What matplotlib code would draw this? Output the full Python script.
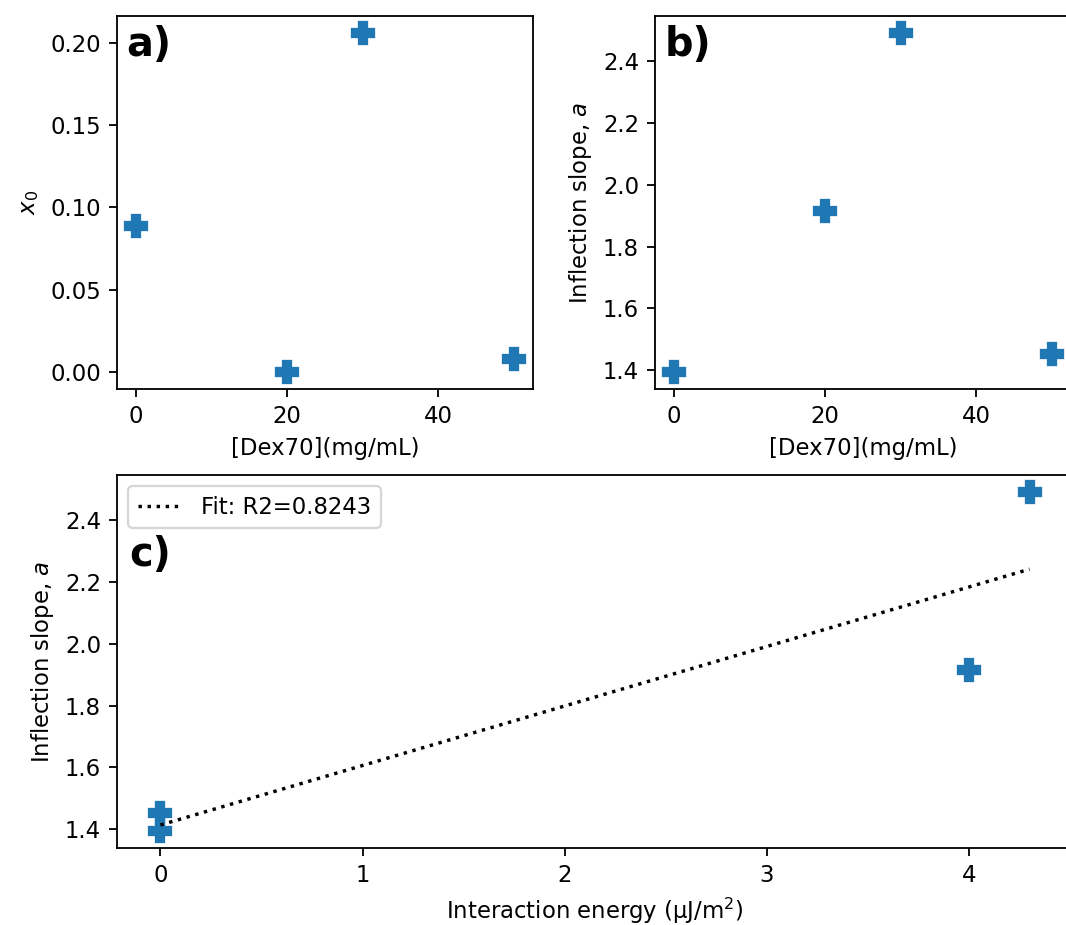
import numpy as np
import matplotlib
matplotlib.use("Agg")
import matplotlib.pyplot as plt
from matplotlib.ticker import MultipleLocator

# Data
dex70 = np.array([0, 20, 30, 50])                      # mg/mL
x0_vals = np.array([0.0888, 0.0, 0.206, 0.0079])        # x_0
slope_a = np.array([1.394, 1.915, 2.491, 1.452])        # inflection slope a
energy = np.array([0.0, 4.0, 4.3, 0.0])                 # interaction energy (uJ/m^2)
fit_label = "Fit: R2=0.8243"

DPI = 164
fig = plt.figure(figsize=(1066 / DPI, 925 / DPI), dpi=DPI)

W, H = 1066, 925
def pos(l, t, r, b):
    return [l / W, 1 - b / H, (r - l) / W, (b - t) / H]

ax_a = fig.add_axes(pos(117, 16, 533, 389))
ax_b = fig.add_axes(pos(655, 16, 1071, 389))
ax_c = fig.add_axes(pos(117, 475, 1073, 848))

mk = dict(marker='P', linestyle='none', markersize=10, color='#1f77b4')

ax_a.plot(dex70, x0_vals, **mk)
ax_a.set_xlabel('[Dex70](mg/mL)')
ax_a.set_ylabel('$x_0$')
ax_a.xaxis.set_major_locator(MultipleLocator(20))
ax_a.text(0.022, 0.975, 'a)', transform=ax_a.transAxes, fontsize=17.5,
          fontweight='bold', ha='left', va='top')

ax_b.plot(dex70, slope_a, **mk)
ax_b.set_xlabel('[Dex70](mg/mL)')
ax_b.set_ylabel('Inflection slope, $a$')
ax_b.xaxis.set_major_locator(MultipleLocator(20))
ax_b.text(0.022, 0.975, 'b)', transform=ax_b.transAxes, fontsize=17.5,
          fontweight='bold', ha='left', va='top')

coef = np.polyfit(energy, slope_a, 1)
xf = np.array([energy.min(), energy.max()])
ax_c.plot(energy, slope_a, **mk)
ax_c.plot(xf, np.polyval(coef, xf), ':', color='black', lw=1.5, label=fit_label)
ax_c.set_xlabel('Interaction energy (μJ/m$^2$)')
ax_c.set_ylabel('Inflection slope, $a$')
ax_c.legend(loc='upper left')
ax_c.text(0.013, 0.84, 'c)', transform=ax_c.transAxes, fontsize=17.5,
          fontweight='bold', ha='left', va='top')

fig.savefig('out.png', dpi=DPI)
